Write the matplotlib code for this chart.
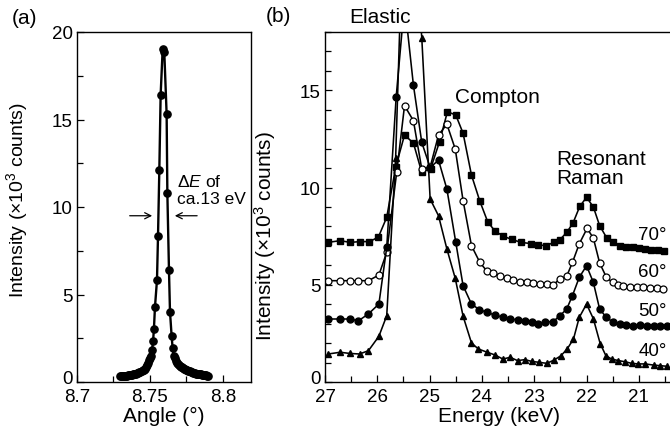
import matplotlib
matplotlib.use("Agg")
import matplotlib.pyplot as plt
import matplotlib.transforms as mtransforms
from matplotlib.ticker import MultipleLocator

plt.rcParams["font.family"] = ["Liberation Sans", "DejaVu Sans"]
plt.rcParams["mathtext.fontset"] = "custom"
plt.rcParams["mathtext.rm"] = "Liberation Sans"
plt.rcParams["mathtext.it"] = "Liberation Sans:italic"

# ---------------- (a) rocking curve of the analyser ----------------
angle_deg = [
    8.7295, 8.7302, 8.7309, 8.7316, 8.7323, 8.7330, 8.7337, 8.7344, 8.7351, 8.7358,
    8.7365, 8.7372, 8.7379, 8.7386, 8.7393, 8.7400, 8.7407, 8.7414, 8.7421, 8.7428,
    8.7435, 8.7442, 8.7449, 8.7456, 8.7463, 8.7470, 8.7477, 8.7484, 8.7491, 8.7498,
    8.7505, 8.7514, 8.7521, 8.7527, 8.7534, 8.7548, 8.7555, 8.7564, 8.7573, 8.7587,
    8.7598, 8.7614, 8.7619, 8.7630, 8.7637, 8.7648, 8.7655, 8.7662,
    8.7669, 8.7676, 8.7683, 8.7690, 8.7697, 8.7704, 8.7711, 8.7718, 8.7725, 8.7732,
    8.7739, 8.7746, 8.7753, 8.7760, 8.7767, 8.7774, 8.7781, 8.7788, 8.7795, 8.7802,
    8.7809, 8.7816, 8.7823, 8.7830, 8.7837, 8.7844, 8.7851, 8.7858, 8.7865, 8.7872,
    8.7879, 8.7886, 8.7893, 8.7900,
]
angle_counts = [
    0.33, 0.34, 0.34, 0.35, 0.35, 0.36, 0.36, 0.37, 0.38, 0.39,
    0.40, 0.41, 0.42, 0.43, 0.44, 0.46, 0.48, 0.50, 0.52, 0.55,
    0.58, 0.62, 0.66, 0.71, 0.77, 0.85, 0.95, 1.08, 1.25, 1.40,
    1.50, 1.83, 2.32, 3.03, 4.27, 5.83, 8.36, 12.11, 16.42, 19.03,
    18.84, 15.31, 10.78, 6.42, 4.02, 2.65, 1.94, 1.50,
    1.35, 1.22, 1.11, 1.03, 0.97, 0.92, 0.87, 0.83, 0.79, 0.75,
    0.72, 0.69, 0.67, 0.65, 0.63, 0.61, 0.58, 0.55, 0.53, 0.51,
    0.49, 0.48, 0.47, 0.46, 0.45, 0.44, 0.43, 0.42, 0.41, 0.40,
    0.39, 0.38, 0.37, 0.36,
]

# ---------------- (b) emission spectra at four scattering angles ----------------
energy_70 = [26.94, 26.71, 26.52, 26.33, 26.15, 25.98, 25.82, 25.65, 25.48, 25.31,
             25.15, 24.98, 24.81, 24.66, 24.50, 24.36, 24.20, 24.04, 23.89, 23.75,
             23.59, 23.43, 23.25, 23.07, 22.92, 22.77, 22.63, 22.51, 22.38, 22.26,
             22.13, 22.00, 21.87, 21.75, 21.61, 21.49, 21.36, 21.24, 21.12, 21.00,
             20.88, 20.76, 20.64, 20.52]
counts_70 = [7.18, 7.27, 7.18, 7.22, 7.22, 7.45, 8.47, 11.04, 12.70, 12.29,
             10.78, 10.98, 12.36, 13.90, 13.73, 12.79, 10.64, 9.30, 8.24, 7.76,
             7.50, 7.33, 7.18, 7.12, 7.05, 7.01, 7.18, 7.32, 7.69, 8.17,
             9.03, 9.50, 9.00, 8.04, 7.39, 7.18, 7.01, 6.95, 6.92, 6.88,
             6.85, 6.80, 6.78, 6.75]

energy_60 = [26.94, 26.71, 26.53, 26.36, 26.17, 25.97, 25.82, 25.63, 25.48, 25.31,
             25.15, 24.99, 24.83, 24.67, 24.51, 24.36, 24.20, 24.04, 23.91, 23.78,
             23.65, 23.53, 23.40, 23.27, 23.14, 23.02, 22.89, 22.76, 22.64, 22.51,
             22.38, 22.27, 22.14, 21.99, 21.87, 21.75, 21.62, 21.50, 21.39, 21.30,
             21.17, 21.04, 20.92, 20.79, 20.65, 20.53]
counts_60 = [5.21, 5.21, 5.21, 5.21, 5.21, 5.50, 6.67, 10.78, 14.21, 13.44,
             10.95, 11.05, 12.70, 13.26, 11.98, 9.32, 7.01, 6.15, 5.72, 5.60,
             5.47, 5.33, 5.24, 5.16, 5.13, 5.07, 5.05, 5.02, 4.99, 5.30,
             5.44, 6.15, 7.10, 7.90, 7.40, 6.12, 5.38, 5.12, 4.99, 4.92,
             4.89, 4.87, 4.87, 4.85, 4.82, 4.78]

energy_50 = [26.94, 26.71, 26.53, 26.36, 26.17, 25.97, 25.82, 25.64, 25.48, 25.31,
             25.15, 24.99, 24.83, 24.67, 24.50, 24.36, 24.20, 24.05, 23.90, 23.75,
             23.60, 23.46, 23.32, 23.18, 23.05, 22.92, 22.79, 22.64, 22.51, 22.38,
             22.27, 22.14, 22.00, 21.87, 21.75, 21.62, 21.49, 21.36, 21.24, 21.11,
             20.98, 20.85, 20.72, 20.59, 20.47]
counts_50 = [3.24, 3.24, 3.24, 3.15, 3.50, 4.01, 6.92, 14.64, 19.50, 15.27,
             12.32, 11.03, 11.41, 9.92, 7.18, 4.95, 4.01, 3.72, 3.58, 3.44,
             3.33, 3.24, 3.20, 3.15, 3.10, 2.98, 3.10, 3.10, 3.41, 3.75,
             4.44, 5.38, 5.98, 5.12, 3.75, 3.32, 3.07, 2.98, 2.93, 2.90,
             2.93, 2.90, 2.90, 2.86, 2.86]

energy_40 = [26.94, 26.71, 26.53, 26.34, 26.17, 25.97, 25.82, 25.65, 25.48, 25.31,
             25.15, 24.99, 24.83, 24.67, 24.51, 24.36, 24.20, 24.07, 23.90, 23.75,
             23.60, 23.46, 23.32, 23.18, 23.05, 22.90, 22.76, 22.62, 22.49, 22.37,
             22.25, 22.14, 22.00, 21.87, 21.74, 21.63, 21.52, 21.39, 21.26, 21.14,
             21.01, 20.88, 20.72, 20.59, 20.47]
counts_40 = [1.44, 1.53, 1.47, 1.44, 1.61, 2.35, 3.41, 11.50, 26.00, 24.00,
             17.70, 9.41, 8.55, 6.84, 5.33, 3.38, 2.01, 1.70, 1.53, 1.39,
             1.18, 1.27, 1.10, 1.15, 1.06, 1.01, 0.96, 1.13, 1.35, 1.70,
             2.21, 3.32, 4.01, 3.25, 1.98, 1.35, 1.18, 1.10, 1.04, 0.96,
             0.93, 0.93, 0.87, 0.84, 0.81]

angle_labels = ["70°", "60°", "50°", "40°"]
angle_label_y = [7.6, 5.66, 3.67, 1.61]

W, H = 670, 435
fig = plt.figure(figsize=(W / 100, H / 100), dpi=100)

ax_a = fig.add_axes([77 / W, 52 / H, 174 / W, 350 / H])
ax_b = fig.add_axes([325 / W, 52 / H, 348.4 / W, 350 / H])

for ax in (ax_a, ax_b):
    for sp in ax.spines.values():
        sp.set_linewidth(1.0)
    ax.tick_params(which="both", direction="in", width=0.9, labelsize=13.5,
                   top=False, right=False, pad=3)
    ax.tick_params(axis="x", which="both", pad=4)
    ax.tick_params(which="major", length=5)
    ax.tick_params(which="minor", length=4)

# panel (a)
ax_a.plot(angle_deg, angle_counts, "-o", color="black", lw=1.7, ms=5.2)
ax_a.set_xlim(8.7, 8.8192)
ax_a.set_ylim(0, 20)
ax_a.set_xticks([8.7, 8.75, 8.8])
ax_a.set_xticklabels(["8.7", "8.75", "8.8"])
ax_a.xaxis.set_minor_locator(MultipleLocator(0.025))
ax_a.set_yticks([0, 5, 10, 15, 20])
ax_a.yaxis.set_minor_locator(MultipleLocator(2.5))
ax_a.set_xlabel("Angle (°)", fontsize=15, labelpad=1)
ax_a.set_ylabel("Intensity (×10$^3$ counts)", fontsize=14)
ax_a.yaxis.set_label_coords(-0.27, 0.523)

arrow_kw = dict(arrowstyle="->", lw=0.9, color="black", mutation_scale=11)
ax_a.annotate("", xy=(8.7534, 9.5), xytext=(8.7342, 9.5), arrowprops=arrow_kw)
ax_a.annotate("", xy=(8.7651, 9.5), xytext=(8.7842, 9.5), arrowprops=arrow_kw)
ax_a.text(8.7685, 11.0, "$\\mathit{\\Delta E}$ of\nca.13 eV", fontsize=12.5,
          ha="left", va="center", linespacing=1.15)

# panel (b)
ax_b.plot(energy_70, counts_70, "-s", color="black", lw=1.15, ms=4.8)
ax_b.plot(energy_60, counts_60, "-o", color="black", lw=1.15, ms=5.0,
          mfc="white", mec="black", mew=0.9)
ax_b.plot(energy_50, counts_50, "-o", color="black", lw=1.15, ms=5.0)
ax_b.plot(energy_40, counts_40, "-^", color="black", lw=1.15, ms=5.0)
ax_b.set_xlim(27, 20.34)
ax_b.set_ylim(0, 18)
ax_b.xaxis.set_major_locator(MultipleLocator(1))
ax_b.xaxis.set_minor_locator(MultipleLocator(0.5))
ax_b.set_yticks([0, 5, 10, 15])
ax_b.yaxis.set_minor_locator(MultipleLocator(1))
ax_b.set_xlabel("Energy (keV)", fontsize=15, labelpad=1)
ax_b.set_ylabel("Intensity (×10$^3$ counts)", fontsize=15)
ax_b.yaxis.set_label_coords(-0.135, 0.42)

# lift the "0" labels a little so they clear the x tick labels
lift = mtransforms.ScaledTranslation(0, 5 / 100, fig.dpi_scale_trans)
for ax in (ax_a, ax_b):
    zero_label = ax.yaxis.get_major_ticks()[0].label1
    zero_label.set_transform(zero_label.get_transform() + lift)

ax_b.text(25.95, 18.8, "Elastic", fontsize=15, ha="center", va="center", clip_on=False)
ax_b.text(23.70, 14.66, "Compton", fontsize=15, ha="center", va="center")
ax_b.text(22.57, 11.0, "Resonant\nRaman", fontsize=15, ha="left", va="center",
          linespacing=1.05)
for lab, yy in zip(angle_labels, angle_label_y):
    ax_b.text(21.01, yy, lab, fontsize=13.5, ha="left", va="center")

fig.text(12 / W, 1 - 18 / H, "(a)", fontsize=15, ha="left", va="center")
fig.text(266 / W, 1 - 16 / H, "(b)", fontsize=15, ha="left", va="center")

fig.savefig("out.png", dpi=100)
